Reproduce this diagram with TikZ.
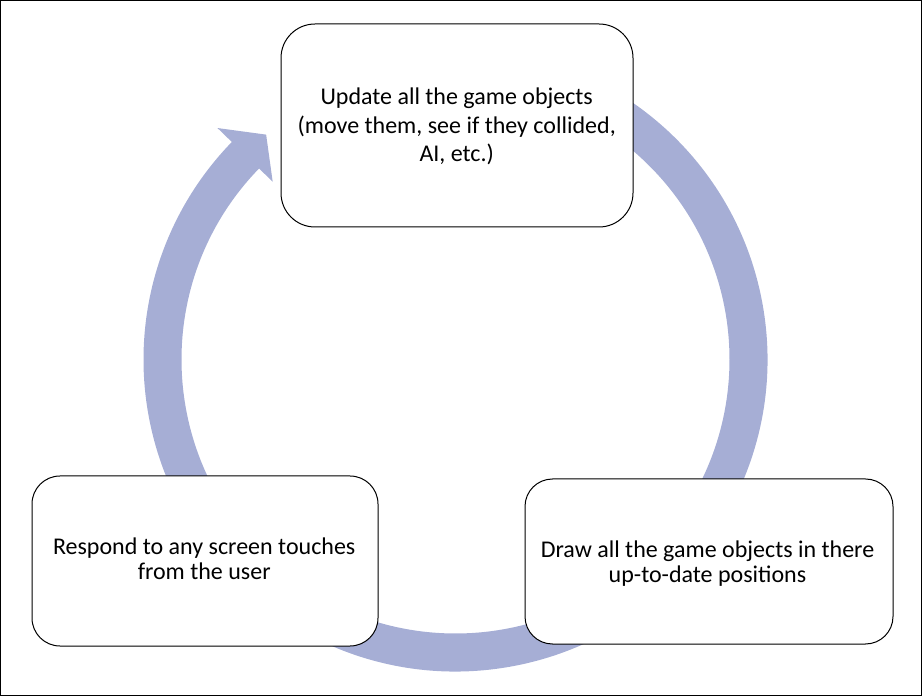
\documentclass[tikz,border=0pt]{standalone}
\usepackage{fontspec}
\setmainfont{Carlito}
\definecolor{bandcol}{RGB}{166,174,213}
\begin{document}
\begin{tikzpicture}[x=1pt,y=1pt,
  box/.style={draw=black,line width=1pt,fill=white,rounded corners=#1,inner sep=0pt},
  txt/.style={align=center,inner sep=0pt,anchor=base,text=black},
  topfont/.style={font=\fontsize{24}{28.5}\selectfont},
  lowfont/.style={font=\fontsize{24}{25}\selectfont}]
\useasboundingbox (0,0) rectangle (923,696);
\draw[line width=1.2pt] (0.8,0.8) rectangle (921.2,695.4);
% circular arrow
\begin{scope}[shift={(455.5,336.5)}]
\fill[bandcol] (100:312) arc[start angle=100,end angle=-224.2,radius=312]
  -- (-224.2:332) -- (-229.9:294) -- (-224.2:255) -- (-224.2:274)
  arc[start angle=-224.2,end angle=100,radius=274] -- cycle;
\end{scope}
% boxes
\path[box=34] (281,469) rectangle (633,672);
\path[box=28] (32,50) rectangle (378,220);
\path[box=27.5] (525,52) rectangle (893,217);
\node[txt,topfont] (toptext) at (456.7,534.3) {Update all the game objects\\(move them, see if they collided,\\AI, etc.)};
\node[txt,lowfont] (lefttext) at (204.2,116.5) {Respond to any screen touches\\from the user};
\node[txt,lowfont] (righttext) at (707.5,113.5) {Draw all the game objects in there\\up-to-date positions};
\end{tikzpicture}
\end{document}
